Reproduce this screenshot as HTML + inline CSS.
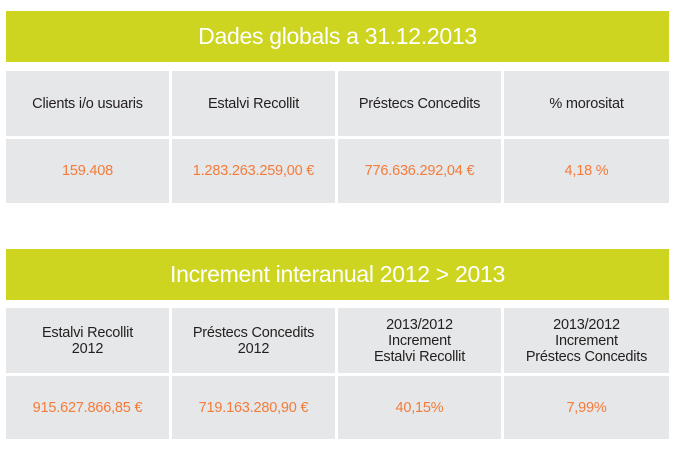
<!DOCTYPE html>
<html><head><meta charset="utf-8"><style>
body{margin:0;width:677px;height:450px;background:#fff;position:relative;font-family:"Liberation Sans",sans-serif;overflow:hidden}
.h{position:absolute;left:6px;width:663px;height:51px;background:#cdd521;color:#fff;font-size:23px;display:flex;align-items:center;justify-content:center;letter-spacing:-0.3px}
.c{position:absolute;background:#e6e7e8;display:flex;align-items:center;justify-content:center;text-align:center;font-size:14.5px;line-height:16px;color:#231f20;letter-spacing:-0.2px}
.v{color:#f47b3a}
</style></head><body>
<div class="h" style="top:11px">Dades globals a 31.12.2013</div>
<div class="c" style="left:6px;top:71px;width:163px;height:65px">Clients i/o usuaris</div>
<div class="c" style="left:172px;top:71px;width:163px;height:65px">Estalvi Recollit</div>
<div class="c" style="left:338px;top:71px;width:163px;height:65px">Préstecs Concedits</div>
<div class="c" style="left:504px;top:71px;width:165px;height:65px">% morositat</div>
<div class="c v" style="left:6px;top:139px;width:163px;height:64px">159.408</div>
<div class="c v" style="left:172px;top:139px;width:163px;height:64px">1.283.263.259,00 €</div>
<div class="c v" style="left:338px;top:139px;width:163px;height:64px">776.636.292,04 €</div>
<div class="c v" style="left:504px;top:139px;width:165px;height:64px">4,18 %</div>

<div class="h" style="top:249px">Increment interanual 2012 &gt; 2013</div>
<div class="c" style="left:6px;top:308px;width:163px;height:65px">Estalvi Recollit<br>2012</div>
<div class="c" style="left:172px;top:308px;width:163px;height:65px">Préstecs Concedits<br>2012</div>
<div class="c" style="left:338px;top:308px;width:163px;height:65px">2013/2012<br>Increment<br>Estalvi Recollit</div>
<div class="c" style="left:504px;top:308px;width:165px;height:65px">2013/2012<br>Increment<br>Préstecs Concedits</div>
<div class="c v" style="left:6px;top:376px;width:163px;height:63px">915.627.866,85 €</div>
<div class="c v" style="left:172px;top:376px;width:163px;height:63px">719.163.280,90 €</div>
<div class="c v" style="left:338px;top:376px;width:163px;height:63px">40,15%</div>
<div class="c v" style="left:504px;top:376px;width:165px;height:63px">7,99%</div>
</body></html>
